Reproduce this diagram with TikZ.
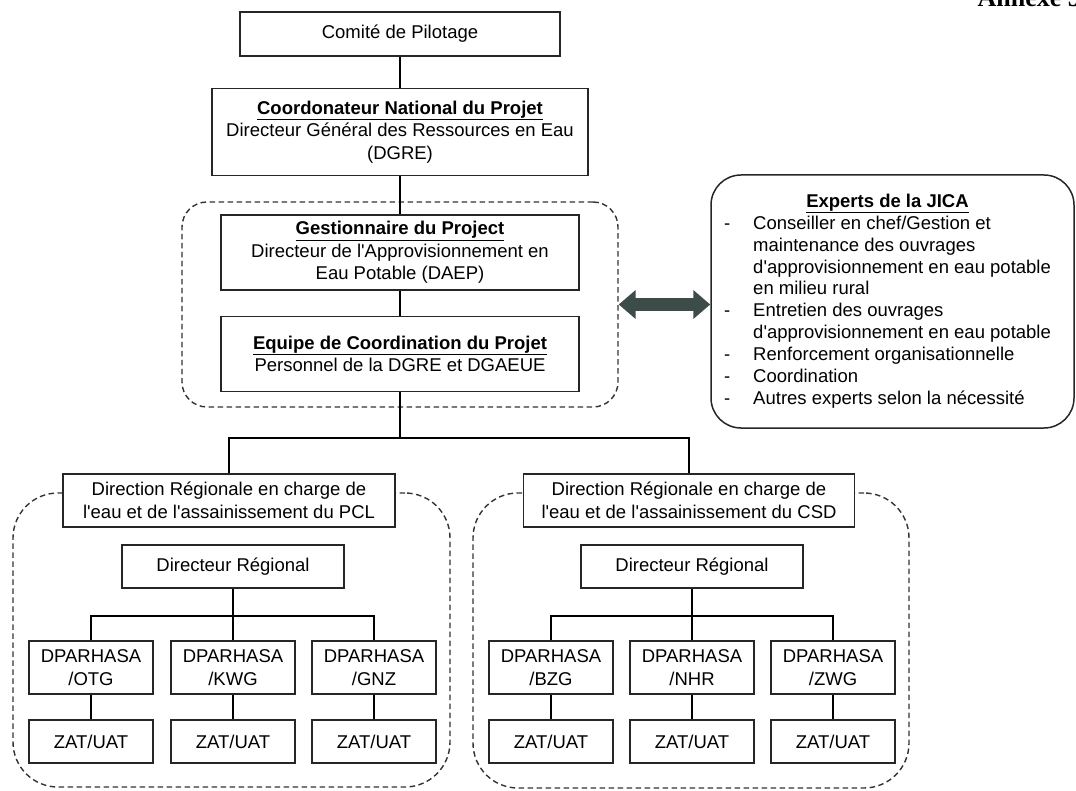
\documentclass[tikz,border=0pt]{standalone}
\usepackage{fontspec}
\setmainfont{Liberation Sans}
\newfontfamily\annexfont{Liberation Serif}
\usepackage{xcolor}
\usetikzlibrary{positioning}
\usetikzlibrary{arrows.meta}
\tikzset{>={Triangle[length=17pt,width=28pt]}}
\definecolor{arrowgray}{HTML}{3E4C49}
\newcommand{\apos}{\textquotesingle}

\begin{document}
\begin{tikzpicture}[x=1pt, y=-1pt, line width=1.4pt]
	\tikzstyle{box}=[draw=black!85, line width=1.5pt, fill=white, align=center, inner sep=0pt, font=\fontsize{18.5}{22.5}\selectfont]
	\tikzstyle{group}=[draw=black!80, line width=1.4pt, dash pattern=on 5.5pt off 3.5pt, inner sep=0pt]
	\useasboundingbox (0,0) rectangle (1076,791);

	\node[anchor=base west, inner sep=0pt, font=\annexfont\bfseries\fontsize{26}{31}\selectfont] (annex) at (977,7) {Annexe 5};

	% dashed groups
	\node[group, rounded corners=25pt, minimum width=436pt, minimum height=205pt] (grp) at (400,304.5) {};
	\node[group, rounded corners=45pt, minimum width=437pt, minimum height=294pt] (grp-pcl) at (231.5,640) {};
	\node[group, rounded corners=45pt, minimum width=436pt, minimum height=295pt] (grp-csd) at (691,640.5) {};

	% national level
	\node[box, minimum width=320pt, minimum height=44pt] (pilot) at (400,34) {Comité de Pilotage};
	\node[box, minimum width=376pt, minimum height=87pt] (coord)[below=31pt of pilot] {\underline{\textbf{Coordonateur National du Projet}}\\Directeur Général des Ressources en Eau\\(DGRE)};
	\node[box, minimum width=358pt, minimum height=75pt] (gest)[below=38pt of coord] {\underline{\textbf{Gestionnaire du Project}}\\Directeur de l\apos Approvisionnement en\\Eau Potable (DAEP)};
	\node[box, minimum width=358pt, minimum height=75pt] (equipe)[below=25pt of gest] {\underline{\textbf{Equipe de Coordination du Projet}}\\Personnel de la DGRE et DGAEUE};

	\path (pilot) edge (coord);
	\path (coord) edge (gest);
	\path (gest) edge (equipe);

	% experts
	\node[draw=black!85, line width=1.5pt, rounded corners=30pt, inner sep=0pt, minimum width=363pt, minimum height=253pt, font=\fontsize{18.5}{21.9}\selectfont] (jica) at (892.5,301.5) {%
		\hspace*{-10pt}\begin{tabular}{@{}l@{\hspace{23pt}}l@{}}
			\multicolumn{2}{c}{\underline{\textbf{Experts de la JICA}}}\\
			- & Conseiller en chef/Gestion et\\
			  & maintenance des ouvrages\\
			  & d\apos approvisionnement en eau potable\\
			  & en milieu rural\\
			- & Entretien des ouvrages\\
			  & d\apos approvisionnement en eau potable\\
			- & Renforcement organisationnelle\\
			- & Coordination\\
			- & Autres experts selon la nécessité
		\end{tabular}};

	\draw[<->, line width=13pt, draw=arrowgray] (grp.east) -- (grp.east -| jica.west);

	% regional level
	\node[box, minimum width=332pt, minimum height=53pt] (pcl) at (229,500.5) {Direction Régionale en charge de\\l\apos eau et de l\apos assainissement du PCL};
	\node[box, minimum width=331pt, minimum height=53pt] (csd) at (689,500.5) {Direction Régionale en charge de\\l\apos eau et de l\apos assainissement du CSD};

	\coordinate (split) at (400,438);
	\path (equipe) edge (split);
	\draw (pcl.north) |- (split) -| (csd.north);

	\node[box, minimum width=222pt, minimum height=43pt] (dr-pcl) at (233,566.5) {Directeur Régional};
	\node[box, minimum width=222pt, minimum height=43pt] (dr-csd) at (692,566.5) {Directeur Régional};

	\foreach \id/\xx/\code in {otg/91/OTG, kwg/233/KWG, gnz/374/GNZ, bzg/551/BZG, nhr/692/NHR, zwg/833/ZWG} {
		\node[box, minimum width=124pt, minimum height=53pt] (\id) at (\xx,667.5) {DPARHASA\\/\code};
		\node[box, minimum width=124pt, minimum height=43pt] (zat-\id) at (\xx,741.5) {ZAT/UAT};
		\path (\id) edge (zat-\id);
	}

	\coordinate (bus-pcl) at (233,616);
	\coordinate (bus-csd) at (692,616);
	\draw (otg.north) |- (bus-pcl) -| (gnz.north);
	\draw (bzg.north) |- (bus-csd) -| (zwg.north);
	\path (dr-pcl) edge (kwg);
	\path (dr-csd) edge (nhr);
\end{tikzpicture}
\end{document}
